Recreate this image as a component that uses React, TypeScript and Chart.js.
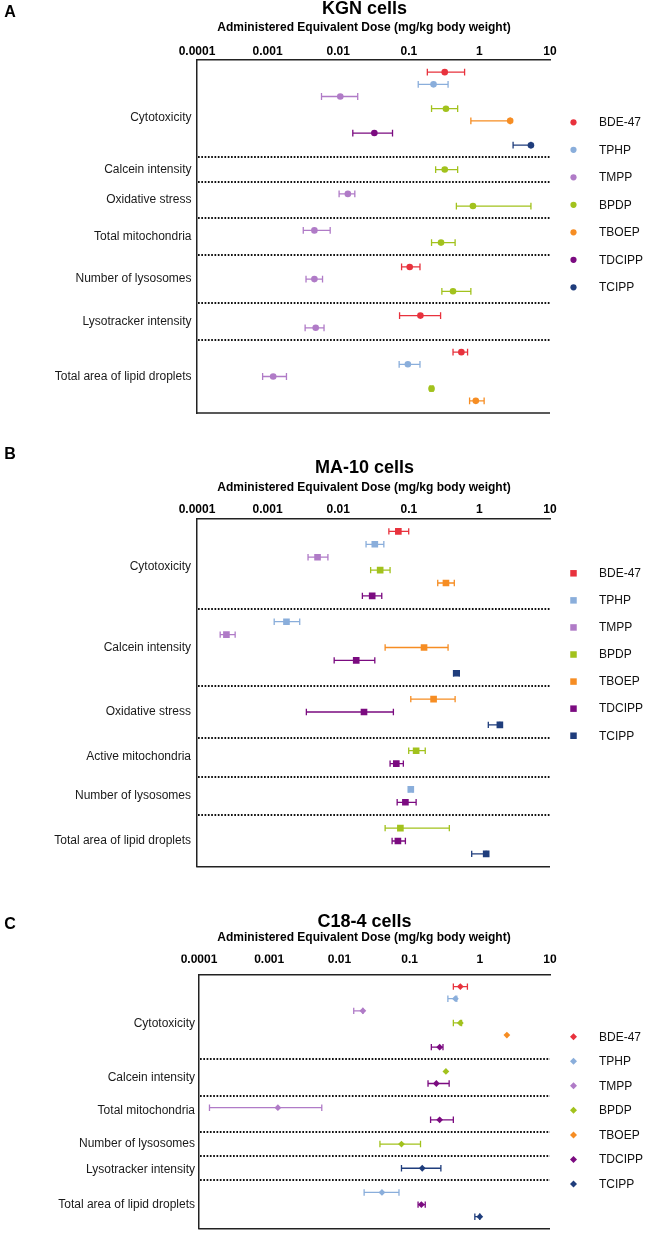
import React, { useEffect, useRef } from "react";
import { Chart, registerables } from "chart.js";

Chart.register(...registerables);

// ---------- shared data ----------
const compounds = ["BDE-47", "TPHP", "TMPP", "BPDP", "TBOEP", "TDCIPP", "TCIPP"];
const compoundColors = ["#e8323d", "#8aaedb", "#b07bc7", "#a2c21d", "#f68d23", "#7b0b80", "#1f3d7c"];

const doseTicks = [0.0001, 0.001, 0.01, 0.1, 1, 10];
const doseTickLabels = ["0.0001", "0.001", "0.01", "0.1", "1", "10"];
const doseAxisTitle = "Administered Equivalent Dose (mg/kg body weight)";

// each entry: [row, dose, lower, upper]
// ---------- A: KGN cells ----------
const kgnEndpoints = ["Cytotoxicity", "Calcein intensity", "Oxidative stress", "Total mitochondria", "Number of lysosomes", "Lysotracker intensity", "Total area of lipid droplets"];
const kgnEndpointRows = [4.75, 9, 11.5, 14.5, 18, 21.5, 26];
const kgnDividers = [8, 10, 13, 16, 20, 23];
const kgnRowCount = 29;
const kgnBDE47 = [[1, 0.323, 0.183, 0.617], [17, 0.103, 0.079, 0.144], [21, 0.146, 0.074, 0.282], [24, 0.555, 0.423, 0.68]];
const kgnTPHP = [[2, 0.224, 0.136, 0.36], [25, 0.097, 0.073, 0.144]];
const kgnTMPP = [[3, 0.0107, 0.0058, 0.0189], [11, 0.0137, 0.0103, 0.0172], [14, 0.0046, 0.0032, 0.0077], [18, 0.0046, 0.0035, 0.006], [22, 0.0048, 0.0034, 0.0063], [26, 0.0012, 0.00085, 0.00185]];
const kgnBPDP = [[4, 0.336, 0.21, 0.492], [9, 0.323, 0.24, 0.492], [12, 0.81, 0.472, 5.37], [15, 0.286, 0.21, 0.453], [19, 0.423, 0.294, 0.757], [27, 0.21, 0.2, 0.22]];
const kgnTBOEP = [[5, 2.73, 0.757, 2.73], [28, 0.889, 0.726, 1.167]];
const kgnTDCIPP = [[6, 0.0325, 0.0161, 0.0588]];
const kgnTCIPP = [[7, 5.37, 3.0, 5.37]];

// ---------- B: MA-10 cells ----------
const ma10Endpoints = ["Cytotoxicity", "Calcein intensity", "Oxidative stress", "Active mitochondria", "Number of lysosomes", "Total area of lipid droplets"];
const ma10EndpointRows = [3.7, 10, 15, 18.5, 21.5, 25];
const ma10Dividers = [7, 13, 17, 20, 23];
const ma10RowCount = 27;
const ma10BDE47 = [[1, 0.0711, 0.0522, 0.0997]];
const ma10TPHP = [[2, 0.033, 0.0248, 0.0443], [8, 0.00185, 0.00124, 0.00285], [21, 0.1067, 0.1, 0.114]];
const ma10TMPP = [[3, 0.0051, 0.00374, 0.00715], [9, 0.000261, 0.000213, 0.000347]];
const ma10BPDP = [[4, 0.0393, 0.0288, 0.0543], [18, 0.127, 0.0997, 0.171], [24, 0.076, 0.0462, 0.375]];
const ma10TBOEP = [[5, 0.336, 0.257, 0.441], [10, 0.1644, 0.0462, 0.36], [14, 0.2244, 0.1067, 0.453]];
const ma10TDCIPP = [[6, 0.0303, 0.022, 0.0414], [11, 0.018, 0.00877, 0.033], [15, 0.0232, 0.00354, 0.0605], [19, 0.0665, 0.0543, 0.0837], [22, 0.0895, 0.0684, 0.127], [25, 0.0701, 0.058, 0.0895]];
const ma10TCIPP = [[12, 0.472, 0.43, 0.52], [16, 1.95, 1.337, 1.95], [26, 1.248, 0.778, 1.248]];

// ---------- C: C18-4 cells ----------
const c184Endpoints = ["Cytotoxicity", "Calcein intensity", "Total mitochondria", "Number of lysosomes", "Lysotracker intensity", "Total area of lipid droplets"];
const c184EndpointRows = [4.05, 8.5, 11.25, 14, 16.1, 19];
const c184Dividers = [7, 10, 13, 15, 17];
const c184RowCount = 21;
const c184BDE47 = [[1, 0.528, 0.42, 0.666]];
const c184TPHP = [[2, 0.449, 0.351, 0.47], [18, 0.0404, 0.0225, 0.0706]];
const c184TMPP = [[3, 0.0216, 0.016, 0.0216], [11, 0.00133, 0.000141, 0.00561]];
const c184BPDP = [[4, 0.528, 0.42, 0.55], [8, 0.329, 0.329, 0.329], [14, 0.0766, 0.0378, 0.143]];
const c184TBOEP = [[5, 2.43, 2.43, 2.43]];
const c184TDCIPP = [[6, 0.268, 0.204, 0.299], [9, 0.2404, 0.183, 0.366], [12, 0.268, 0.199, 0.42], [19, 0.147, 0.132, 0.167]];
const c184TCIPP = [[16, 0.1514, 0.0766, 0.279], [20, 1.0, 0.85, 1.0]];

// ---------- styling ----------
const FONT = '"Liberation Sans", Arial, Helvetica, sans-serif';
const LABEL_SIZE = 12;
const X_AXIS_H = 20;
const PLOT_RIGHT = 550;

const PANELS: any[] = [
  {
    letter: "A", title: "KGN cells", top: 0, height: 440,
    letterY: 12.5, titleY: 9.5, subtitleY: 28,
    plotTop: 60, plotBottom: 413, plotLeft: 197, tickPad: 1, labelPad: 5.5,
    endpoints: kgnEndpoints, endpointRows: kgnEndpointRows, dividers: kgnDividers, rowCount: kgnRowCount,
    series: [kgnBDE47, kgnTPHP, kgnTMPP, kgnBPDP, kgnTBOEP, kgnTDCIPP, kgnTCIPP],
    pointStyle: "circle", pointRadius: 3.3, legendRadius: 3.1, capHalf: 3.4,
    legendY0: 122.3, legendStep: 27.5,
  },
  {
    letter: "B", title: "MA-10 cells", top: 440, height: 440,
    letterY: 15, titleY: 28.3, subtitleY: 47.3,
    plotTop: 78.5, plotBottom: 429, plotLeft: 197, tickPad: 2, labelPad: 6,
    endpoints: ma10Endpoints, endpointRows: ma10EndpointRows, dividers: ma10Dividers, rowCount: ma10RowCount,
    series: [ma10BDE47, ma10TPHP, ma10TMPP, ma10BPDP, ma10TBOEP, ma10TDCIPP, ma10TCIPP],
    pointStyle: "rect", pointRadius: 4.7, legendRadius: 4.6, capHalf: 3.2,
    legendY0: 133.3, legendStep: 27.07,
  },
  {
    letter: "C", title: "C18-4 cells", top: 880, height: 360,
    letterY: 45, titleY: 41.7, subtitleY: 57.3,
    plotTop: 94.5, plotBottom: 357.3, plotLeft: 199, tickPad: 7.3, labelPad: 4,
    endpoints: c184Endpoints, endpointRows: c184EndpointRows, dividers: c184Dividers, rowCount: c184RowCount,
    series: [c184BDE47, c184TPHP, c184TMPP, c184BPDP, c184TBOEP, c184TDCIPP, c184TCIPP],
    pointStyle: "rectRot", pointRadius: 3.4, legendRadius: 3.5, capHalf: 3.2,
    legendY0: 156.7, legendStep: 24.55,
  },
];

function drawMarker(ctx: any, style: string, x: number, y: number, r: number) {
  ctx.beginPath();
  if (style === "circle") {
    ctx.arc(x, y, r, 0, Math.PI * 2);
  } else if (style === "rect") {
    const s = r * Math.SQRT1_2;
    ctx.rect(x - s, y - s, 2 * s, 2 * s);
  } else {
    ctx.moveTo(x, y - r);
    ctx.lineTo(x + r, y);
    ctx.lineTo(x, y + r);
    ctx.lineTo(x - r, y);
    ctx.closePath();
  }
  ctx.fill();
}

function makeErrorBarPlugin(spec: any) {
  return {
    id: "errorBars",
    beforeDatasetsDraw(chart: any) {
      const { ctx } = chart;
      const xs = chart.scales.x;
      const ys = chart.scales.y;
      ctx.save();
      ctx.lineWidth = 1.3;
      chart.data.datasets.forEach((ds: any) => {
        ctx.strokeStyle = ds.borderColor;
        ds.data.forEach((p: any) => {
          if (p.lo === p.hi) return;
          const yp = ys.getPixelForValue(p.y);
          const x1 = xs.getPixelForValue(p.lo);
          const x2 = xs.getPixelForValue(p.hi);
          ctx.beginPath();
          ctx.moveTo(x1, yp);
          ctx.lineTo(x2, yp);
          ctx.moveTo(x1, yp - spec.capHalf);
          ctx.lineTo(x1, yp + spec.capHalf);
          ctx.moveTo(x2, yp - spec.capHalf);
          ctx.lineTo(x2, yp + spec.capHalf);
          ctx.stroke();
        });
      });
      ctx.restore();
    },
  };
}

function makeDecorPlugin(spec: any) {
  return {
    id: "panelDecor",
    beforeDatasetsDraw(chart: any) {
      const { ctx, chartArea } = chart;
      const ys = chart.scales.y;
      ctx.save();
      ctx.strokeStyle = "#111";
      ctx.lineWidth = 2;
      ctx.setLineDash([1.7, 1.6]);
      spec.dividers.forEach((d: number) => {
        const yp = Math.round(ys.getPixelForValue(d));
        ctx.beginPath();
        ctx.moveTo(chartArea.left + 1, yp);
        ctx.lineTo(chartArea.right, yp);
        ctx.stroke();
      });
      ctx.setLineDash([]);
      ctx.lineWidth = 1.5;
      ctx.strokeStyle = "#222";
      ctx.beginPath();
      ctx.moveTo(chartArea.left - 0.75, chartArea.bottom);
      ctx.lineTo(chartArea.right, chartArea.bottom);
      ctx.stroke();
      ctx.restore();
    },
    afterDraw(chart: any) {
      const { ctx } = chart;
      ctx.save();
      ctx.fillStyle = "#000";
      ctx.textBaseline = "middle";
      ctx.textAlign = "center";
      ctx.font = `bold 16px ${FONT}`;
      ctx.fillText(spec.letter, 10, spec.letterY);
      ctx.font = `bold 18px ${FONT}`;
      ctx.fillText(spec.title, 364.5, spec.titleY);
      ctx.font = `bold 12px ${FONT}`;
      ctx.fillText(doseAxisTitle, 364, spec.subtitleY);
      // legend
      ctx.textAlign = "left";
      ctx.font = `${LABEL_SIZE}px ${FONT}`;
      compounds.forEach((name, i) => {
        const y = spec.legendY0 + i * spec.legendStep;
        ctx.fillStyle = compoundColors[i];
        drawMarker(ctx, spec.pointStyle, 573.5, y, spec.legendRadius);
        ctx.fillStyle = "#111";
        ctx.fillText(name, 599, y + 0.5);
      });
      ctx.restore();
    },
  };
}

function Panel({ spec }: { spec: any }) {
  const ref = useRef<HTMLCanvasElement | null>(null);
  useEffect(() => {
    if (!ref.current) return;
    const chart = new Chart(ref.current, {
      type: "scatter",
      data: {
        datasets: spec.series.map((rows: number[][], i: number) => ({
          label: compounds[i],
          data: rows.map((r) => ({ x: r[1], y: r[0], lo: r[2], hi: r[3] })),
          backgroundColor: compoundColors[i],
          borderColor: compoundColors[i],
          borderWidth: 0,
          pointStyle: spec.pointStyle,
          pointRadius: spec.pointRadius,
          pointHoverRadius: spec.pointRadius,
          showLine: false,
        })),
      },
      options: {
        responsive: false,
        animation: false,
        devicePixelRatio: 1,
        events: [],
        layout: {
          padding: {
            top: spec.plotTop - X_AXIS_H,
            bottom: spec.height - spec.plotBottom,
            left: 0,
            right: 650 - PLOT_RIGHT,
          },
        },
        plugins: {
          legend: { display: false },
          title: { display: false },
          tooltip: { enabled: false },
        },
        scales: {
          x: {
            type: "logarithmic",
            position: "top",
            min: doseTicks[0],
            max: doseTicks[doseTicks.length - 1],
            afterBuildTicks: (s: any) => {
              s.ticks = doseTicks.map((v) => ({ value: v }));
            },
            afterFit: (s: any) => {
              s.height = X_AXIS_H;
            },
            ticks: {
              autoSkip: false,
              maxRotation: 0,
              minRotation: 0,
              padding: spec.tickPad,
              color: "#000",
              font: { family: FONT, size: 12, weight: "bold" },
              callback: (_v: any, i: number) => doseTickLabels[i],
            },
            grid: { display: false, drawTicks: false },
            border: { display: true, color: "#222", width: 1.5 },
          },
          y: {
            type: "linear",
            reverse: true,
            min: 0,
            max: spec.rowCount,
            afterBuildTicks: (s: any) => {
              s.ticks = spec.endpointRows.map((v: number) => ({ value: v }));
            },
            afterFit: (s: any) => {
              s.width = spec.plotLeft;
            },
            ticks: {
              autoSkip: false,
              padding: spec.labelPad,
              color: "#1a1a1a",
              font: { family: FONT, size: LABEL_SIZE },
              callback: (_v: any, i: number) => spec.endpoints[i],
            },
            grid: { display: false, drawTicks: false },
            border: { display: true, color: "#222", width: 1.5 },
          },
        },
      } as any,
      plugins: [makeDecorPlugin(spec), makeErrorBarPlugin(spec)],
    } as any);
    return () => chart.destroy();
  }, [spec]);
  return (
    <canvas
      ref={ref}
      width={650}
      height={spec.height}
      style={{ position: "absolute", left: 0, top: spec.top, width: 650, height: spec.height }}
    />
  );
}

export default function App() {
  return (
    <div style={{ position: "absolute", left: 0, top: 0, width: 650, height: 1240, background: "#fff" }}>
      {PANELS.map((p) => (
        <Panel key={p.letter} spec={p} />
      ))}
    </div>
  );
}
